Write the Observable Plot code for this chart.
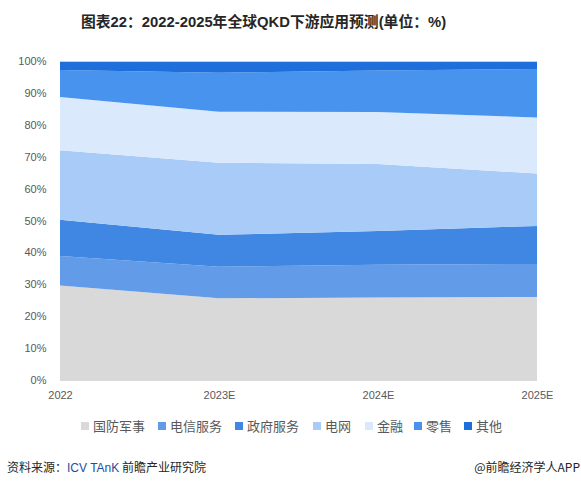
<!DOCTYPE html>
<html>
<head>
<meta charset="utf-8">
<script src="https://cdn.jsdelivr.net/npm/d3@7"></script>
<script src="https://cdn.jsdelivr.net/npm/@observablehq/plot@0.6"></script>
<style>
  html, body { margin: 0; padding: 0; background: #fff; }
  body { width: 581px; height: 488px; position: relative; overflow: hidden; font-family: "Liberation Sans", "Noto Sans CJK SC", sans-serif; }
  #title { position: absolute; top: 10px; left: 81px; white-space: nowrap; font-family: "Liberation Sans", "Noto Sans CJK SC", sans-serif; font-weight: bold; font-size: 14.8px; color: #262626; }
  #chart { position: absolute; top: 40px; left: 0; }
  #legend { position: absolute; top: 416px; left: 81px; display: flex; align-items: center; font-family: "Noto Sans CJK SC", sans-serif; font-size: 13px; color: #595959; white-space: nowrap; }
  #legend .it { position: absolute; display: flex; align-items: center; top: 0; }
  #legend .sw { width: 8px; height: 8px; margin-right: 4px; }
  #src { position: absolute; top: 458px; left: 7px; font-family: "Noto Sans CJK SC", sans-serif; font-size: 12px; color: #262626; }
  #src .b { color: #1f4e9c; font-family: "Liberation Sans", sans-serif; }
  #brand { position: absolute; top: 458px; right: 1px; font-family: "Noto Sans CJK SC", sans-serif; font-size: 12px; color: #262626; }
</style>
</head>
<body>
<div id="title">图表22：2022-2025年全球QKD下游应用预测(单位：%)</div>
<div id="chart"></div>
<div id="legend"></div>
<div id="src">资料来源：<span class="b">ICV TAnK</span> 前瞻产业研究院</div>
<div id="brand">@前瞻经济学人APP</div>
<script>
const years = ["2022", "2023E", "2024E", "2025E"];
const seriesNames = ["国防军事", "电信服务", "政府服务", "电网", "金融", "零售", "其他"];
const defense  = [29.6, 25.6, 25.9, 26.0];
const telecom  = [9.3, 9.9, 10.2, 10.4];
const govern   = [11.3, 10.0, 10.6, 11.9];
const grid     = [21.8, 22.6, 21.0, 16.4];
const finance  = [16.7, 16.0, 16.3, 17.6];
const retail   = [8.5, 12.2, 13.0, 15.2];
const other    = [2.8, 3.7, 3.0, 2.5];
const yTicks = [0, 10, 20, 30, 40, 50, 60, 70, 80, 90, 100];
const colors = ["#d9d9d9", "#629ce8", "#4087e3", "#a9cbf7", "#dae9fb", "#4793ee", "#1e6fdb"];

const seriesValues = [defense, telecom, govern, grid, finance, retail, other];
const data = [];
seriesNames.forEach((s, i) => {
  years.forEach((y, j) => data.push({ series: s, year: y, value: seriesValues[i][j] }));
});

const chart = Plot.plot({
  width: 581,
  height: 366,
  marginTop: 21,
  marginBottom: 26,
  marginLeft: 60,
  marginRight: 44,
  style: { fontFamily: "Liberation Sans, sans-serif", fontSize: "11px", color: "#595959", background: "transparent" },
  x: { type: "point", domain: years, padding: 0, label: null, tickSize: 0, tickPadding: 11 },
  y: { domain: [0, 100], ticks: yTicks, tickFormat: d => d + "%", label: null, tickSize: 0, tickPadding: 14 },
  color: { domain: seriesNames, range: colors },
  marks: [
    Plot.areaY(data, Plot.stackY({ x: "year", y: "value", z: "series", fill: "series", order: null })),
    Plot.ruleY([100], { stroke: "#d0d0d0", strokeWidth: 1 }),
    Plot.ruleY([0], { stroke: "#d9d9d9", strokeWidth: 1 })
  ]
});
document.getElementById("chart").appendChild(chart);

const legend = document.getElementById("legend");
const offsets = [0, 77, 154, 232, 284, 333, 383];
seriesNames.forEach((s, i) => {
  const it = document.createElement("div");
  it.className = "it";
  it.style.left = offsets[i] + "px";
  const sw = document.createElement("div");
  sw.className = "sw";
  sw.style.background = colors[i];
  const t = document.createElement("span");
  t.textContent = s;
  it.appendChild(sw);
  it.appendChild(t);
  legend.appendChild(it);
});
</script>
</body>
</html>
